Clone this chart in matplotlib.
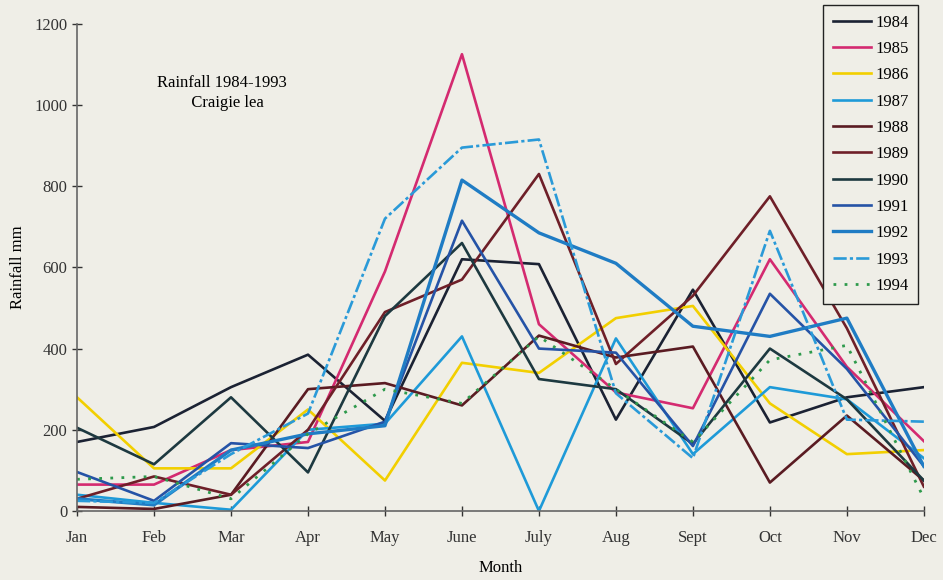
import numpy as np
import matplotlib
matplotlib.use('Agg')
import matplotlib.pyplot as plt

# 월별 강수량
months = ['Jan', 'Feb', 'Mar', 'Apr', 'May', 'June', 'July', 'Aug', 'Sept', 'Oct', 'Nov', 'Dec']

r1984 = [170, 207, 305, 385, 222, 620, 608, 225, 545, 218, 280, 305]
r1985 = [65, 65, 150, 170, 590, 1125, 460, 292, 253, 620, 355, 172]
r1986 = [280, 105, 105, 250, 75, 365, 340, 475, 505, 265, 140, 150]
r1987 = [40, 20, 3, 200, 215, 430, 0, 425, 140, 305, 275, 130]
r1988 = [10, 5, 40, 300, 315, 260, 432, 378, 405, 70, 235, 75]
r1989 = [30, 85, 40, 200, 490, 570, 830, 362, 530, 775, 450, 60]
r1990 = [205, 115, 280, 95, 480, 660, 325, 300, 165, 400, 275, 75]
r1991 = [96, 25, 167, 155, 220, 715, 400, 390, 160, 535, 350, 110]
r1992 = [30, 15, 150, 190, 210, 815, 685, 610, 455, 430, 475, 110]
r1993 = [25, 20, 140, 240, 720, 895, 915, 290, 130, 690, 225, 220]
r1994 = [78, 85, 30, 190, 300, 265, 430, 300, 170, 372, 408, 32]

years = ['1984', '1985', '1986', '1987', '1988', '1989', '1990', '1991', '1992', '1993', '1994']
series = [r1984, r1985, r1986, r1987, r1988, r1989, r1990, r1991, r1992, r1993, r1994]
colors = ['#1b2233', '#d42a70', '#f2cf00', '#1e9ad8', '#5a1b22', '#6e1f28',
          '#1d3940', '#2553a6', '#1f7cc4', '#2a9ad8', '#2e9a4c']
styles = ['-', '-', '-', '-', '-', '-', '-', '-', '-', (0, (5, 1.2, 1.2, 1.2)), (0, (1, 3))]
widths = [1.9, 1.9, 1.9, 1.9, 1.9, 1.9, 1.9, 1.9, 2.4, 1.9, 2.0]

plt.rcParams['font.family'] = ['Liberation Serif', 'DejaVu Serif']
bg = '#efeee7'

fig = plt.figure(figsize=(9.43, 5.8), dpi=100, facecolor=bg)
ax = fig.add_axes([0.0817, 0.119, 0.898, 0.840])
ax.set_facecolor(bg)

x = np.arange(len(months))
for y, c, ls, lw, lab in zip(series, colors, styles, widths, years):
    ax.plot(x, y, color=c, linestyle=ls, linewidth=lw, label=lab)

ax.set_xlim(0, len(months) - 1)
ax.set_ylim(0, 1200)
ax.set_yticks(np.arange(0, 1201, 200))
ax.set_xticks(x)
ax.set_xticklabels(months)
ax.tick_params(axis='both', labelsize=12, colors='#333333', direction='inout', length=7, width=1)
ax.tick_params(axis='x', pad=10)
for s in ['top', 'right']:
    ax.spines[s].set_visible(False)
for s in ['left', 'bottom']:
    ax.spines[s].set_color('#666666')
    ax.spines[s].set_linewidth(1.2)

ax.set_xlabel('Month', fontsize=12, labelpad=10)
ax.set_ylabel('Rainfall mm', fontsize=12, labelpad=6)

ax.text(1.88, 1030, 'Rainfall 1984-1993\n   Craigie lea', fontsize=12, ha='center', va='center',
        linespacing=1.3)

leg = ax.legend(loc='upper right', bbox_to_anchor=(0.974, 0.992),
                bbox_transform=fig.transFigure, fontsize=12, frameon=True,
                fancybox=False, edgecolor='#222222', facecolor=bg, framealpha=1,
                handlelength=2.3, labelspacing=0.62, borderpad=0.6, handletextpad=0.25,
                borderaxespad=0)
leg.get_frame().set_linewidth(1.0)

fig.savefig('out.png', dpi=100, facecolor=bg)
